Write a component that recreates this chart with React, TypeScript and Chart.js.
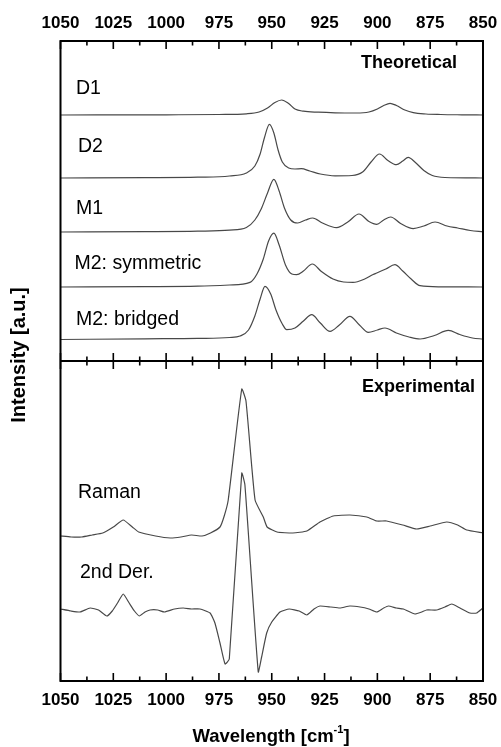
import React, { useEffect, useRef } from "react";
import { Chart, registerables } from "chart.js";

Chart.register(...registerables);

const FONT = "'Liberation Sans', Arial, Helvetica, sans-serif";

// ---- axis ----
const axisTicks = [1050, 1025, 1000, 975, 950, 925, 900, 875, 850];
const minorTicks = [1037.5, 1012.5, 987.5, 962.5, 937.5, 912.5, 887.5, 862.5];

// ---- theoretical spectra ----
const theoNames = ["D1", "D2", "M1", "M2: symmetric", "M2: bridged"];
const theoOffsets = [24.6, 18.3, 12.9, 7.4, 2.2];

const d1Wn = [1050, 1000, 975, 962, 956, 952, 948.5, 945.3, 942, 939, 935, 928, 920, 910, 904, 900, 897, 894, 891, 887, 883, 877, 870, 860, 850];
const d1I = [0, 0.02, 0.05, 0.12, 0.3, 0.7, 1.25, 1.5, 1.15, 0.6, 0.38, 0.28, 0.22, 0.2, 0.3, 0.6, 0.95, 1.17, 0.95, 0.5, 0.23, 0.1, 0.05, 0.02, 0];

const d2Wn = [1050, 1010, 985, 970, 962, 958, 955.5, 953.5, 951.1, 949, 947, 945, 942, 939, 936, 932, 927, 920, 912, 907, 903, 899, 895, 891, 888, 885.4, 882, 878, 874, 868, 850];
const d2I = [0, 0.03, 0.08, 0.2, 0.5, 1.2, 2.4, 4.0, 5.36, 4.5, 2.8, 1.6, 1.0, 0.9, 0.93, 0.7, 0.4, 0.22, 0.25, 0.6, 1.6, 2.4, 1.75, 1.33, 1.7, 2.06, 1.55, 0.75, 0.25, 0.05, 0];

const m1Wn = [1050, 1010, 985, 970, 962, 958, 955, 952, 949, 946.5, 944, 941, 937.7, 934, 930.6, 926, 919.3, 914, 908.7, 904, 900.3, 897, 893.7, 889, 883, 878, 872.7, 867, 862, 856, 850];
const m1I = [0, 0.03, 0.08, 0.18, 0.45, 1.2, 2.3, 3.9, 5.27, 4.1, 2.4, 1.2, 0.9, 1.2, 1.4, 0.9, 0.44, 1.0, 1.8, 1.05, 0.77, 1.2, 1.5, 0.85, 0.34, 0.6, 1.0, 0.6, 0.4, 0.15, 0.02];

const m2sWn = [1050, 1010, 985, 970, 960.3, 957, 954, 951.5, 949, 946.5, 943.5, 940.5, 938.2, 935, 930.8, 926.5, 921, 916, 911.5, 906, 902, 900.3, 896, 891.7, 888, 884, 879.8, 870, 850];
const m2sI = [0, 0.03, 0.08, 0.2, 0.46, 1.3, 2.8, 4.6, 5.38, 4.2, 2.2, 1.3, 1.23, 1.6, 2.3, 1.55, 0.8, 0.5, 0.46, 0.8, 1.25, 1.4, 1.8, 2.23, 1.6, 0.8, 0.13, 0.02, 0];

const m2bWn = [1050, 1010, 985, 970, 965, 961, 958, 955.5, 953.2, 950.5, 948, 945, 942.9, 939, 935, 931.1, 927, 922.4, 918, 913, 908.5, 904.3, 900, 896.4, 891, 885, 879.8, 873, 866.4, 861, 855, 850];
const m2bI = [-0.05, 0.02, 0.06, 0.15, 0.3, 0.9, 2.3, 4.0, 5.26, 4.5, 2.9, 1.5, 0.93, 1.1, 1.8, 2.43, 1.6, 0.76, 1.4, 2.26, 1.4, 0.66, 0.9, 1.1, 0.6, 0.2, 0.0, 0.35, 0.86, 0.45, 0.1, 0];

// ---- experimental spectra ----
const expNames = ["Raman", "2nd Der."];

const ramanWn = [1050, 1045, 1040, 1035, 1030, 1025, 1020.3, 1016, 1013, 1005, 998, 993, 988, 983, 979, 974.5, 972.5, 970.6, 964.2, 962.2, 957.9, 954, 952.2, 947.5, 940, 933.4, 927.2, 920.9, 913, 905, 900.3, 895.6, 888, 881.4, 875, 867.2, 862, 857.7, 850];
const ramanI = [14.5, 14.4, 14.4, 14.6, 14.8, 15.4, 16.1, 15.4, 14.9, 14.5, 14.3, 14.4, 14.6, 14.5, 14.8, 15.4, 16.5, 18.1, 29.2, 28.0, 18.1, 16.4, 15.4, 14.9, 14.8, 15.0, 15.9, 16.5, 16.6, 16.4, 16.0, 16.0, 15.6, 15.2, 15.5, 15.9, 15.6, 15.1, 14.8];

const derWn = [1050, 1045, 1040.8, 1036, 1032, 1028.1, 1025.5, 1023, 1020.3, 1017.5, 1015, 1012.7, 1010, 1007.6, 1004, 1000.8, 996, 991.9, 988, 984, 979.2, 976.9, 974.5, 972.1, 970.1, 964.2, 962.7, 956.4, 954.8, 952.4, 950, 946.1, 941.7, 937, 933.4, 930, 927.2, 922, 917.7, 913, 908.2, 904, 900.3, 897, 894.8, 891, 887.7, 882.2, 879, 876.7, 871.9, 868, 864.8, 860.9, 856.2, 853, 850];
const derI = [7.2, 7.0, 6.9, 7.3, 7.1, 6.5, 7.0, 7.8, 8.7, 7.8, 7.0, 6.5, 6.9, 7.1, 7.1, 6.9, 7.2, 7.3, 7.2, 7.2, 6.8, 5.8, 3.8, 1.7, 2.2, 20.8, 19.6, 0.9, 2.4, 4.8, 5.9, 6.9, 7.2, 7.0, 6.6, 7.2, 7.5, 7.4, 7.3, 7.5, 7.4, 7.2, 6.9, 7.3, 7.5, 7.3, 7.2, 6.7, 6.9, 7.1, 7.1, 7.4, 7.7, 7.3, 6.8, 6.8, 7.3];

// ---- layout of annotation text (canvas px) ----
const theoLabelPos = [[76, 89], [78, 147], [76, 209], [74.5, 264], [76, 320]];
const expLabelPos = [[78, 493], [80, 573]];

const LINE = "#484848";

const theoSeries = [
  [d1Wn, d1I],
  [d2Wn, d2I],
  [m1Wn, m1I],
  [m2sWn, m2sI],
  [m2bWn, m2bI],
];
const expSeries = [
  [ramanWn, ramanI],
  [derWn, derI],
];

const overlay = {
  id: "overlay",
  afterDatasetsDraw(chart: any) {
    const ctx = chart.ctx as CanvasRenderingContext2D;
    const { left, right, top, bottom } = chart.chartArea;
    const xs = chart.scales.x;
    const mid = chart.scales.yTheo.bottom;
    ctx.save();
    ctx.strokeStyle = "#000";
    ctx.lineWidth = 2;
    ctx.strokeRect(left, top, right - left, bottom - top);
    ctx.beginPath();
    ctx.moveTo(left, mid);
    ctx.lineTo(right, mid);
    ctx.stroke();

    ctx.lineWidth = 1.6;
    const drawTick = (v: number, len: number) => {
      const px = xs.getPixelForValue(v);
      ctx.beginPath();
      ctx.moveTo(px, top);
      ctx.lineTo(px, top + len);
      ctx.moveTo(px, bottom);
      ctx.lineTo(px, bottom - len);
      ctx.moveTo(px, mid - len);
      ctx.lineTo(px, mid + len);
      ctx.stroke();
    };
    axisTicks.forEach((v) => drawTick(v, 8));
    minorTicks.forEach((v) => drawTick(v, 4.5));

    ctx.fillStyle = "#000";
    ctx.textBaseline = "middle";
    // panel titles
    ctx.font = `bold 18px ${FONT}`;
    ctx.textAlign = "right";
    ctx.fillText("Theoretical", 457, 63);
    ctx.fillText("Experimental", 475, 387);
    // series labels
    ctx.font = `19.5px ${FONT}`;
    ctx.textAlign = "left";
    theoNames.forEach((n, i) => ctx.fillText(n, theoLabelPos[i][0], theoLabelPos[i][1]));
    expNames.forEach((n, i) => ctx.fillText(n, expLabelPos[i][0], expLabelPos[i][1]));

    // y title
    ctx.save();
    ctx.translate(19, 355);
    ctx.rotate(-Math.PI / 2);
    ctx.textAlign = "center";
    ctx.font = `bold 20px ${FONT}`;
    ctx.fillText("Intensity [a.u.]", 0, 0);
    ctx.restore();

    // x title with superscript
    const main1 = "Wavelength [cm";
    const sup = "-1";
    const main2 = "]";
    ctx.font = `bold 18.5px ${FONT}`;
    const w1 = ctx.measureText(main1).width;
    const w3 = ctx.measureText(main2).width;
    ctx.font = `bold 11px ${FONT}`;
    const w2 = ctx.measureText(sup).width;
    const total = w1 + w2 + w3;
    const cx = 271;
    const cy = 737;
    const x0 = cx - total / 2;
    ctx.textAlign = "left";
    ctx.font = `bold 18.5px ${FONT}`;
    ctx.fillText(main1, x0, cy);
    ctx.font = `bold 11px ${FONT}`;
    ctx.fillText(sup, x0 + w1, cy - 7);
    ctx.font = `bold 18.5px ${FONT}`;
    ctx.fillText(main2, x0 + w1 + w2, cy);
    ctx.restore();
  },
};

export default function App() {
  const ref = useRef<HTMLCanvasElement | null>(null);

  useEffect(() => {
    document.body.style.margin = "0";
    const canvas = ref.current;
    if (!canvas) return;

    const datasets: any[] = [];
    theoSeries.forEach(([wn, inten], k) => {
      datasets.push({
        label: theoNames[k],
        data: wn.map((w, j) => ({ x: w, y: inten[j] + theoOffsets[k] })),
        xAxisID: "x",
        yAxisID: "yTheo",
        borderColor: LINE,
        borderWidth: 1.2,
        pointRadius: 0,
        fill: false,
        cubicInterpolationMode: "monotone",
      });
    });
    expSeries.forEach(([wn, inten], k) => {
      datasets.push({
        label: expNames[k],
        data: wn.map((w, j) => ({ x: w, y: inten[j] })),
        xAxisID: "x",
        yAxisID: "yExp",
        borderColor: LINE,
        borderWidth: 1.2,
        pointRadius: 0,
        fill: false,
        tension: 0.15,
      });
    });

    const xTicks = {
      stepSize: 25,
      autoSkip: false,
      maxRotation: 0,
      color: "#000",
      font: { family: FONT, size: 17, weight: "bold" },
      callback: (v: any) => String(v),
    };

    const xCommon = {
      type: "linear",
      min: 850,
      max: 1050,
      reverse: true,
      grid: { display: false, drawTicks: false },
      border: { display: false },
    };

    const yCommon = {
      type: "linear",
      position: "left",
      stack: "panels",
      stackWeight: 1,
      min: 0,
      max: 32,
      grid: { display: false, drawTicks: false },
      border: { display: false },
      ticks: { display: false },
      afterFit: (s: any) => {
        s.width = 60.5;
      },
    };

    const chart = new Chart(canvas, {
      type: "line",
      data: { datasets },
      options: {
        responsive: false,
        animation: false,
        devicePixelRatio: 1,
        layout: { padding: { left: 0, right: 18, top: 0, bottom: 0 } },
        plugins: { legend: { display: false }, tooltip: { enabled: false } },
        scales: {
          x: {
            ...xCommon,
            position: "bottom",
            ticks: { ...xTicks, padding: 9 },
            afterFit: (s: any) => {
              s.height = 66;
              s.paddingLeft = 0;
              s.paddingRight = 0;
            },
          },
          xTop: {
            ...xCommon,
            position: "top",
            ticks: { ...xTicks, padding: 7 },
            afterFit: (s: any) => {
              s.height = 41;
              s.paddingLeft = 0;
              s.paddingRight = 0;
            },
          },
          yExp: { ...yCommon },
          yTheo: { ...yCommon },
        } as any,
      },
      plugins: [overlay],
    } as any);

    return () => chart.destroy();
  }, []);

  return <canvas ref={ref} width={501} height={747} style={{ display: "block" }} />;
}
